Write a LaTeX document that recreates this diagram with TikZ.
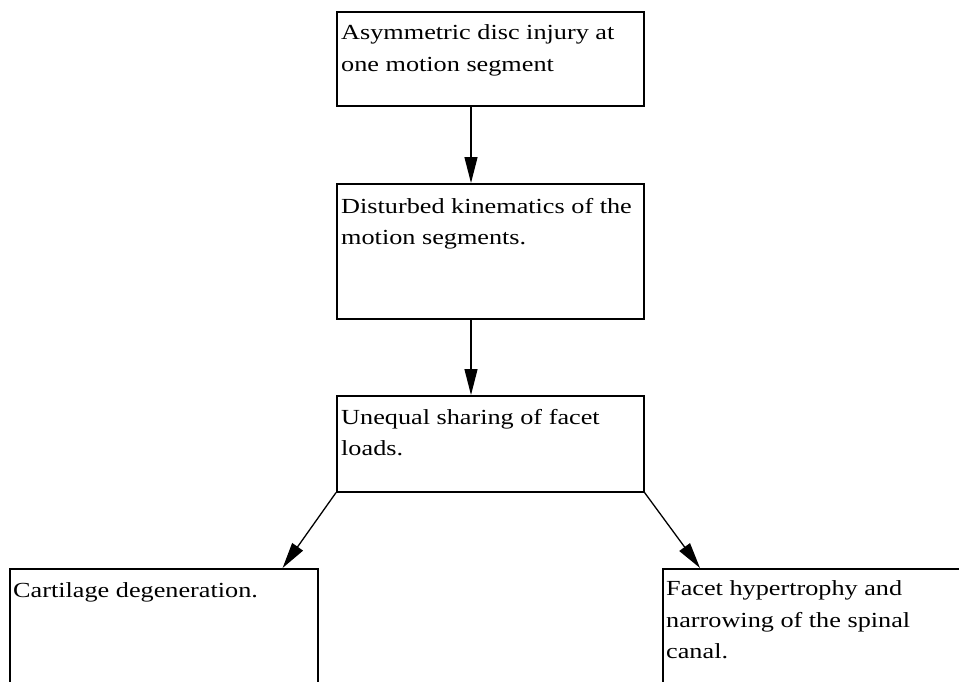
\documentclass[tikz,border=0pt]{standalone}
\usepackage{fontspec}
\setmainfont{Liberation Serif}[FakeStretch=1.22]
\usetikzlibrary{arrows.meta}
\tikzset{
	cause/.style={draw, line width=1.6pt, minimum width=307pt, anchor=north west, inner sep=0pt},
	causetext/.style={anchor=north west, align=left, inner sep=0pt, font=\fontsize{21.5}{31.5}\selectfont},
	leads/.style={line width=1.3pt, -{Triangle[length=26pt,width=13pt]}}
}

\begin{document}
\begin{tikzpicture}[x=1pt,y=1pt]
		\clip (0,0) rectangle (959,-681);
		\begin{scope}
			\node [cause, minimum height=94pt] (injury) at (336,-11) {};
			\node [cause, minimum height=135pt] (kinematics) at (336,-183) {};
			\node [cause, minimum height=96pt] (loads) at (336,-395) {};
			\node [cause, minimum width=308pt, minimum height=140pt] (cartilage) at (9,-568) {};
			\node [cause, minimum width=308pt, minimum height=140pt] (facet) at (662,-568) {};
		\end{scope}
		%
		\node [causetext] (injurytext) at ([xshift=5pt,yshift=-13.5pt]injury.north west) {Asymmetric disc injury at\\one motion segment};
		\node [causetext] (kinematicstext) at ([xshift=5pt,yshift=-15pt]kinematics.north west) {Disturbed kinematics of the\\motion segments.};
		\node [causetext] (loadstext) at ([xshift=5pt,yshift=-14pt]loads.north west) {Unequal sharing of facet\\loads.};
		\node [causetext] (cartilagetext) at ([xshift=4pt,yshift=-14pt]cartilage.north west) {Cartilage degeneration.};
		\node [causetext] (facettext) at ([xshift=4pt,yshift=-12.5pt]facet.north west) {Facet hypertrophy and\\narrowing of the spinal\\canal.};
		%
		\foreach \a/\b in {injury/kinematics, kinematics/loads}
			\draw [leads] ([xshift=135pt]\a.south west) -- ([xshift=135pt]\b.north west);
		\draw [leads] (loads.south west) -- ([xshift=-36pt]cartilage.north east);
		\draw [leads] (loads.south east) -- ([xshift=38pt]facet.north west);
	\end{tikzpicture}
\end{document}
